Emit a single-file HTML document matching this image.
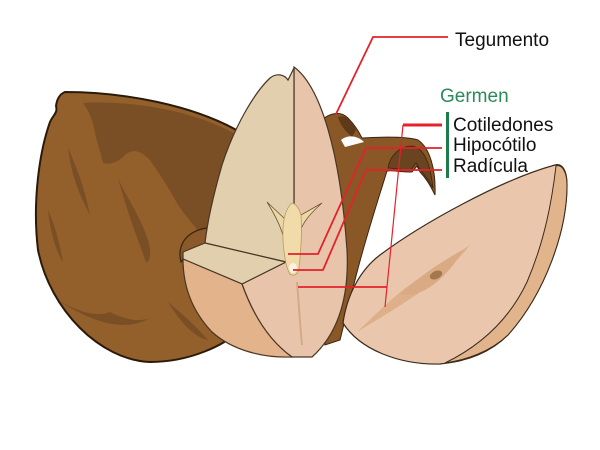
<!DOCTYPE html>
<html><head><meta charset="utf-8"><style>
html,body{margin:0;padding:0;background:#fff;}
svg{display:block;}
text{font-family:"Liberation Sans",Arial,sans-serif;font-size:19px;}
</style></head><body>
<svg width="600" height="450" viewBox="0 0 600 450" xmlns="http://www.w3.org/2000/svg">
<rect width="600" height="450" fill="#fff"/>
<!-- Big seed -->
<path d="M65 92 C120 92 195 104 245 135 L252 220 L240 330 C225 345 190 362 150 362 C100 360 50 310 38 250 C32 200 40 150 50 122 C53 115 58 113 56 106 C57 98 60 94 65 92 Z" fill="#93602c" stroke="#2b1a0a" stroke-width="2"/>
<path d="M83 103 C130 100 200 110 245 140 L248 258 L212 248 C200 232 190 222 178 205 C170 190 160 175 150 160 C140 150 132 148 124 156 C118 162 110 165 103 163 C100 150 96 140 94 128 C92 118 88 110 83 103 Z" fill="#7a4f25"/>
<path d="M118 178 C125 195 140 215 148 240 C152 252 150 262 146 262 C138 240 128 215 118 178 Z" fill="#7a4f25"/>
<path d="M68 148 C78 170 85 190 90 215 C82 200 72 180 68 148 Z" fill="#7a4f25"/>
<path d="M48 210 C55 225 60 245 63 262 C55 250 50 230 48 210 Z" fill="#7a4f25"/>
<path d="M58 300 C75 310 95 318 110 312 C125 320 140 322 150 318 C130 330 100 328 58 300 Z" fill="#7a4f25"/>
<path d="M168 302 C180 312 195 325 208 340 C195 338 180 322 168 302 Z" fill="#7a4f25"/>
<!-- brown rim left of center piece -->
<path d="M181 262 C177 246 185 232 206 228 L214 242 L184 258 Z" fill="#8a5a2a" stroke="#3a2410" stroke-width="1.2"/>
<!-- tegument strip right -->
<path d="M318 125 C326 113 340 110 348 118 C354 124 358 130 362 138 C380 137 405 136 418 140 C430 148 436 170 435 195 C430 185 426 178 420 172 L417 166 L412 172 C400 172 392 170 387 171 C378 200 365 240 355 280 C350 300 345 320 340 340 L325 345 Z" fill="#8a5727" stroke="#3a2410" stroke-width="1"/>
<path d="M338 117 C346 114 352 120 356 130 L352 137 C346 132 340 125 338 117 Z" fill="#5e3a18"/>
<path d="M341 140 C348 134 358 136 364 142 L345 147 Z" fill="#fff"/>
<path d="M388 168 C390 155 400 146 412 146 C424 148 430 162 433 188 C428 180 424 174 419 168 L416 163 L411 170 C402 170 394 168 388 168 Z" fill="#6a4320" stroke="#3a2410" stroke-width="0.8"/>
<!-- center piece: right cotyledon + right front face -->
<path d="M294 67 C320 86 340 150 347 250 C349 290 342 330 312 357 L292 357 C268 340 252 312 242 284 L286 262 L294 205 Z" fill="#e8c5aa" stroke="#4a3625" stroke-width="1.2"/>
<!-- left cotyledon -->
<path d="M294 68 L288 80 C284 74 276 73 270 78 C255 92 235 125 222 165 C212 200 207 225 205 243 L286 262 L294 205 Z" fill="#e1cfad" stroke="#4a3625" stroke-width="1.2"/>
<!-- top face -->
<path d="M183 252 L205 243 L286 262 L242 284 L183 259 Z" fill="#e1cfad" stroke="#4a3625" stroke-width="1.2"/>
<!-- left front face -->
<path d="M183 259 L242 284 C252 312 268 340 292 357 C262 358 232 350 212 332 C193 312 183 288 183 259 Z" fill="#e3b48b" stroke="#4a3625" stroke-width="1.2"/>
<path d="M297 282 C299 305 300 325 302 345" stroke="#d5a987" stroke-width="2" fill="none"/>
<!-- embryo -->
<path d="M267 202 C275 215 282 228 284 240 L286 220 Z" fill="#ecd7a8" stroke="#6a5535" stroke-width="0.8"/>
<path d="M322 203 C312 212 302 222 299 235 L301 215 Z" fill="#ecd7a8" stroke="#6a5535" stroke-width="0.8"/>
<path d="M292 203 C286 208 282 220 283 240 C284 255 286 268 290 274 C294 277 298 274 299 268 C301 250 302 230 301 215 C299 208 296 204 292 203 Z" fill="#f1dba8" stroke="#b89a60" stroke-width="0.8"/>
<ellipse cx="293" cy="268" rx="4" ry="5" fill="#fbf3e2"/>
<!-- right half -->
<path d="M343 323 C347 295 360 270 380 255 C420 225 500 180 555 165 C562 163 567 170 567 185 C567 230 546 292 508 335 C488 355 462 362 440 364 C400 365 360 350 343 323 Z" fill="#eac7ac" stroke="#3a2a1c" stroke-width="1.2"/>
<path d="M556 166 C552 200 545 240 527 282 C510 318 482 345 445 363 C466 360 490 352 508 335 C546 292 567 230 567 185 C567 172 562 164 556 166 Z" fill="#e2b48b" stroke="#3a2a1c" stroke-width="1"/>
<path d="M357 332 C380 310 400 290 420 278 C440 262 455 255 470 245 C460 258 445 272 430 285 C410 300 385 315 357 332 Z" fill="#ddb089"/>
<path d="M400 294 C415 280 440 262 463 250 C455 265 440 282 425 290 C415 295 405 296 400 294 Z" fill="#d9aa83"/>
<ellipse cx="436" cy="275" rx="6.5" ry="4" transform="rotate(-25 436 275)" fill="#a4774f"/>
<!-- red leader lines -->
<g stroke="#e3222b" fill="none">
<path d="M448 37 L373 37 L336 114" stroke-width="1.8"/>
<path d="M442 125 L403 125" stroke-width="3"/>
<path d="M403 125 L385 307" stroke-width="1.2"/>
<path d="M298 287 L387 287" stroke-width="1.8"/>
<path d="M442 148 L366 148 L318 254 L288 254" stroke-width="1.8"/>
<path d="M442 170 L366 170 L323 270 L293 270" stroke-width="1.8"/>
</g>
<rect x="446" y="112" width="3" height="66" fill="#1f7a4c"/>
<text x="455" y="46" fill="#111">Tegumento</text>
<text x="440" y="102" fill="#2a8a5a">Germen</text>
<text x="453" y="131" fill="#111">Cotiledones</text>
<text x="453" y="151" fill="#111">Hipocótilo</text>
<text x="453" y="172" fill="#111">Radícula</text>
</svg>
</body></html>
